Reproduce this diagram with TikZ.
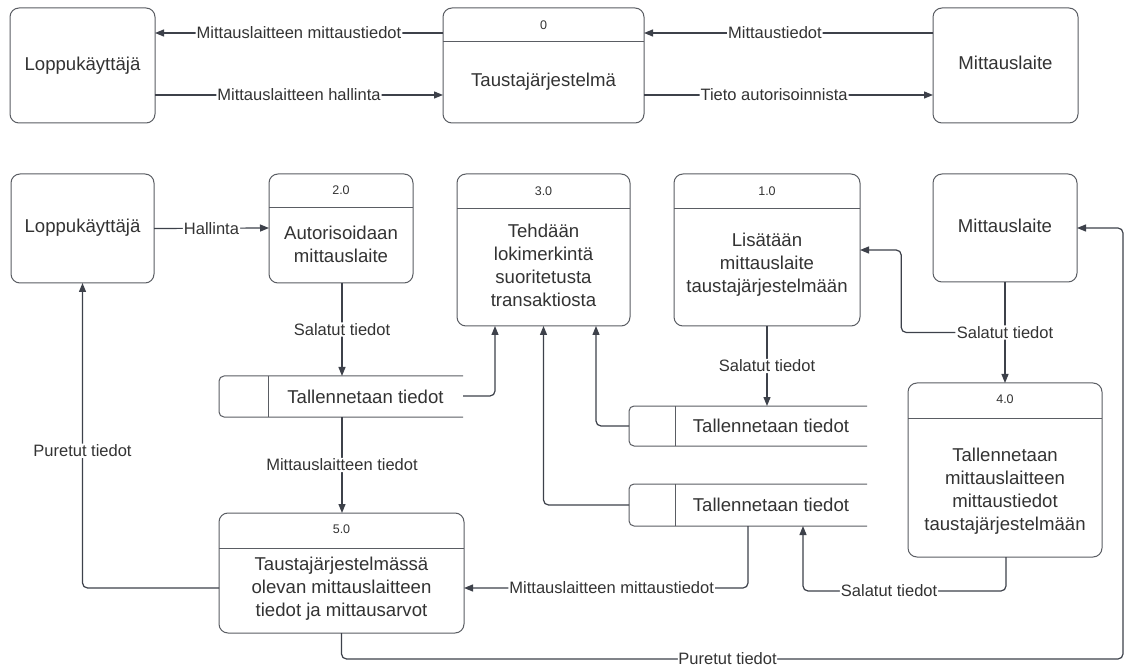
\documentclass[tikz,border=0pt]{standalone}
\usepackage{fontspec}
\setmainfont{Liberation Sans}
\usetikzlibrary{arrows.meta,calc}
\definecolor{ln}{HTML}{3D414A}
\definecolor{bx}{HTML}{5A5D63}
\definecolor{tx}{HTML}{333333}
\begin{document}
\begin{tikzpicture}[x=1pt,y=-1pt,
  box/.style={draw=bx,line width=1pt,rounded corners=9pt,inner sep=0pt,outer sep=0pt,anchor=north west},
  store/.style={inner sep=0pt,outer sep=0pt,anchor=north west},
  sline/.style={draw=bx,line width=1pt,rounded corners=5pt},
  hline/.style={draw=bx,line width=1pt},
  big/.style={font=\fontsize{18.6}{23}\selectfont,text=tx,align=center,inner sep=0pt},
  lab/.style={font=\fontsize{16.5}{20}\selectfont,text=tx,fill=white,inner sep=1pt},
  num/.style={font=\fontsize{12.5}{14}\selectfont,text=tx,inner sep=0pt},
  arr/.style={draw=ln,line width=1.2pt,-{Triangle[length=9pt,width=7pt]},rounded corners=5pt}]
\useasboundingbox[fill=white] (0,0) rectangle (1125,668);

% ---------- top diagram ----------
\node[box,minimum width=145pt,minimum height=115pt] (L1) at (10,8) {};
\node[big] (L1t) at (82.5,65.5) {Loppukäyttäjä};
\node[box,minimum width=201pt,minimum height=115pt] (T) at (443,8) {};
\draw[hline] ([yshift=-34pt]T.north west) -- ([yshift=-34pt]T.north east);
\node[num] (Tn) at (543.5,25) {0};
\node[big] (Tt) at (543.5,82) {Taustajärjestelmä};
\node[box,minimum width=145pt,minimum height=115pt] (M1) at (933,8) {};
\node[big] (M1t) at (1005.5,63) {Mittauslaite};

\draw[arr] ([yshift=-25pt]T.north west) -- node[lab]{Mittauslaitteen mittaustiedot} ([yshift=-25pt]L1.north east);
\draw[arr] ([yshift=-87pt]L1.north east) -- node[lab]{Mittauslaitteen hallinta} ([yshift=-87pt]T.north west);
\draw[arr] ([yshift=-25pt]M1.north west) -- node[lab,pos=0.547]{Mittaustiedot} ([yshift=-25pt]T.north east);
\draw[arr] ([yshift=-87pt]T.north east) -- node[lab,pos=0.45]{Tieto autorisoinnista} ([yshift=-87pt]M1.north west);

% ---------- bottom diagram ----------
\node[box,minimum width=143pt,minimum height=109pt] (L2) at (11,174) {};
\node[big] (L2t) at (82.5,228) {Loppukäyttäjä};

\node[box,minimum width=144pt,minimum height=109pt] (P2) at (269,174) {};
\draw[hline] ([yshift=-34pt]P2.north west) -- ([yshift=-34pt]P2.north east);
\node[num] (P2n) at (341,190) {2.0};
\node[big] (P2t) at (341,244) {Autorisoidaan\\mittauslaite};

\node[box,minimum width=173pt,minimum height=152pt] (P3) at (457,174) {};
\draw[hline] ([yshift=-35pt]P3.north west) -- ([yshift=-35pt]P3.north east);
\node[num] (P3n) at (543.5,191) {3.0};
\node[big] (P3t) at (543.5,265) {Tehdään\\lokimerkintä\\suoritetusta\\transaktiosta};

\node[box,minimum width=186pt,minimum height=152pt] (P1) at (674,174) {};
\draw[hline] ([yshift=-35pt]P1.north west) -- ([yshift=-35pt]P1.north east);
\node[num] (P1n) at (767,191) {1.0};
\node[big] (P1t) at (767,265) {Lisätään\\mittauslaite\\taustajärjestelmään};

\node[box,minimum width=144pt,minimum height=108pt] (M2) at (933,174) {};
\node[big] (M2t) at (1005,226) {Mittauslaite};

\node[box,minimum width=194pt,minimum height=174pt] (P4) at (908,383) {};
\draw[hline] ([yshift=-35pt]P4.north west) -- ([yshift=-35pt]P4.north east);
\node[num] (P4n) at (1005,399) {4.0};
\node[big] (P4t) at (1005,491) {Tallennetaan\\mittauslaitteen\\mittaustiedot\\taustajärjestelmään};

\node[box,minimum width=245pt,minimum height=120pt] (P5) at (219,513) {};
\draw[hline] ([yshift=-35pt]P5.north west) -- ([yshift=-35pt]P5.north east);
\node[num] (P5n) at (341.5,529) {5.0};
\node[big] (P5t) at (341.5,589) {Taustajärjestelmässä\\olevan mittauslaitteen\\tiedot ja mittausarvot};

% stores
\node[store,minimum width=244pt,minimum height=41pt] (S1) at (219,376) {};
\draw[sline] (S1.north east) -- (S1.north west) -- (S1.south west) -- (S1.south east);
\draw[hline] ([xshift=49pt]S1.north west) -- ([xshift=49pt]S1.south west);
\node[big] (S1t) at (365.5,396.5) {Tallennetaan tiedot};

\node[store,minimum width=238pt,minimum height=40pt] (S2) at (629,406) {};
\draw[sline] (S2.north east) -- (S2.north west) -- (S2.south west) -- (S2.south east);
\draw[hline] ([xshift=46pt]S2.north west) -- ([xshift=46pt]S2.south west);
\node[big] (S2t) at (771,426) {Tallennetaan tiedot};

\node[store,minimum width=238pt,minimum height=42pt] (S3) at (629,484) {};
\draw[sline] (S3.north east) -- (S3.north west) -- (S3.south west) -- (S3.south east);
\draw[hline] ([xshift=46pt]S3.north west) -- ([xshift=46pt]S3.south west);
\node[big] (S3t) at (771,505) {Tallennetaan tiedot};

% connectors
\draw[arr] (L2.east) -- node[lab]{Hallinta} ([yshift=-54pt]P2.north west);
\draw[arr] ([xshift=73pt]P2.south west) -- node[lab]{Salatut tiedot} ([xshift=123pt]S1.north west);
\draw[arr] ([yshift=-20pt]S1.north east) -- ++(32,0) -- ([xshift=38pt]P3.south west);
\draw[arr] ([xshift=123pt]S1.south west) -- node[lab]{Mittauslaitteen tiedot} ([xshift=123pt]P5.north west);
\draw[arr] ([yshift=-75pt]P5.north west) -| node[lab,pos=0.725]{Puretut tiedot} (L2.south);
\coordinate (j1) at (1123,659);
\draw[arr] (P5.south) |- node[lab,pos=0.747,inner sep=0.5pt]{Puretut tiedot} (j1) |- (M2.east);
\draw[arr] (S2.west) -| ([xshift=139pt]P3.south west);
\draw[arr] (S3.west) -| (P3.south);
\draw[arr] ([xshift=93pt]P1.south west) -- node[lab]{Salatut tiedot} ([xshift=138pt]S2.north west);
\draw[arr] (M2.south) -- node[lab](sl){Salatut tiedot} (P4.north);
\draw[arr] (sl.west) -- ++(-54,0) |- (P1.east);
\draw[arr] ([xshift=119pt]S3.south west) |- node[lab,pos=0.74]{Mittauslaitteen mittaustiedot} ([yshift=-75pt]P5.north east);
\draw[arr] ([xshift=98pt]P4.south west) -- ++(0,34) -| node[lab,pos=0.288]{Salatut tiedot} ([xshift=174pt]S3.south west);
\end{tikzpicture}
\end{document}
